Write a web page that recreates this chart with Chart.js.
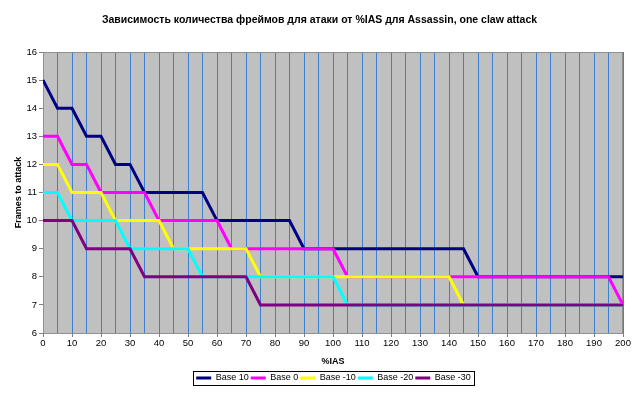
<!DOCTYPE html>
<html>
<head>
<meta charset="utf-8">
<script src="https://cdn.jsdelivr.net/npm/chart.js@4/dist/chart.umd.min.js"></script>
<style>
html,body{margin:0;padding:0;background:#fff;}
#wrap{width:640px;height:399px;}
</style>
</head>
<body>
<div id="wrap"><canvas id="c" width="640" height="399"></canvas></div>
<script>
const ias = [0,5,10,15,20,25,30,35,40,45,50,55,60,65,70,75,80,85,90,95,100,105,110,115,120,125,130,135,140,145,150,155,160,165,170,175,180,185,190,195,200];
const base10  = [15,14,14,13,13,12,12,11,11,11,11,11,10,10,10,10,10,10,9,9,9,9,9,9,9,9,9,9,9,9,8,8,8,8,8,8,8,8,8,8,8];
const base0   = [13,13,12,12,11,11,11,11,10,10,10,10,10,9,9,9,9,9,9,9,9,8,8,8,8,8,8,8,8,8,8,8,8,8,8,8,8,8,8,8,7];
const baseM10 = [12,12,11,11,11,10,10,10,10,9,9,9,9,9,9,8,8,8,8,8,8,8,8,8,8,8,8,8,8,7,7,7,7,7,7,7,7,7,7,7,7];
const baseM20 = [11,11,10,10,10,10,9,9,9,9,9,8,8,8,8,8,8,8,8,8,8,7,7,7,7,7,7,7,7,7,7,7,7,7,7,7,7,7,7,7,7];
const baseM30 = [10,10,10,9,9,9,9,8,8,8,8,8,8,8,8,7,7,7,7,7,7,7,7,7,7,7,7,7,7,7,7,7,7,7,7,7,7,7,7,7,7];
const seriesNames = ['Base 10','Base 0','Base -10','Base -20','Base -30'];
const seriesData = [base10, base0, baseM10, baseM20, baseM30];
const seriesColors = ['#000080','#ff00ff','#ffff00','#00ffff','#800080'];
const titleText = 'Зависимость количества фреймов для атаки от %IAS для Assassin, one claw attack';
const xTitle = '%IAS';
const yTitle = 'Frames to attack';

const FONT = 'Arial, "Liberation Sans", sans-serif';

const datasets = seriesNames.map((n,i)=>({
  label: n,
  data: ias.map((x,j)=>({x:x, y:seriesData[i][j]})),
  borderColor: seriesColors[i],
  backgroundColor: seriesColors[i],
  borderWidth: 3,
  pointRadius: 0,
  tension: 0,
  fill: false,
  order: seriesNames.length - i
}));

const bgPlugin = {
  id: 'bgPlugin',
  beforeDraw(chart){
    const {ctx, chartArea:a} = chart;
    ctx.save();
    ctx.fillStyle = '#c0c0c0';
    ctx.fillRect(a.left, a.top, a.right-a.left, a.bottom-a.top);
    ctx.restore();
  },
  beforeDatasetsDraw(chart){
    const {ctx, chartArea:a} = chart;
    ctx.save();
    ctx.strokeStyle = '#909090';
    ctx.lineWidth = 1;
    ctx.strokeRect(Math.round(a.left)+0.5, Math.round(a.top)+0.5, Math.round(a.right-a.left)-1, Math.round(a.bottom-a.top));
    const xs = chart.scales.x;
    ctx.strokeStyle = '#808080';
    ctx.beginPath();
    for (const t of xs.ticks) {
      if (t.value % 10 !== 0) continue;
      const px = Math.round(xs.getPixelForValue(t.value)) + 0.5;
      ctx.moveTo(px, Math.round(a.bottom));
      ctx.lineTo(px, Math.round(a.bottom) + 4);
    }
    ctx.stroke();
    ctx.restore();
  },
  afterLayout(chart){
    const tb = chart.titleBlock;
    if (tb) { tb.left += 8; tb.right += 8; }
    const lg = chart.legend;
    if(!lg || !lg.lineWidths) return;
    const p = lg.options.labels.padding;
    const W = lg.lineWidths[0];
    const start = (lg.left + p + lg.right - W)/2;
    const wantStart = 333.5 - (W - p)/2;
    const d = wantStart - start;
    lg.left += d; lg.right += d;
    const fs = lg.options.labels.font.size;
    const ih = Math.max(fs, lg.options.labels.boxHeight || fs);
    const dy = 378 - (lg.top + p + ih/2);
    lg.top += dy; lg.bottom += dy;
  },
  afterDraw(chart){
    const lg = chart.legend;
    if(!lg || !lg.legendHitBoxes || !lg.legendHitBoxes.length) return;
    const hb = lg.legendHitBoxes;
    let l = Infinity, r = -Infinity, t = Infinity, b = -Infinity;
    hb.forEach(h=>{ l=Math.min(l,h.left); r=Math.max(r,h.left+h.width); t=Math.min(t,h.top); b=Math.max(b,h.top+h.height);});
    const cy = (t+b)/2;
    const ctx = chart.ctx;
    ctx.save();
    ctx.strokeStyle = '#000';
    ctx.lineWidth = 1;
    ctx.strokeRect(Math.round(l-3)+0.5, Math.round(cy-7)+0.5, Math.round(r-l+6), 14);
    ctx.restore();
  }
};

new Chart(document.getElementById('c'), {
  type: 'line',
  data: { datasets },
  plugins: [bgPlugin],
  options: {
    responsive: false,
    animation: false,
    devicePixelRatio: 1,
    layout: { padding: { left: 0, right: 17, top: 0, bottom: 0 } },
    plugins: {
      title: {
        display: true,
        text: titleText,
        color: '#000',
        font: { family: FONT, size: 10.5, weight: 'bold' },
        padding: { top: 14.2, bottom: 25.2 }
      },
      legend: {
        display: true,
        position: 'bottom',
        reverse: true,
        labels: {
          color: '#000',
          font: { family: FONT, size: 9 },
          usePointStyle: true,
          pointStyle: 'line',
          pointStyleWidth: 15,
          boxHeight: 9,
          padding: 2
        }
      },
      tooltip: { enabled: false }
    },
    scales: {
      x: {
        type: 'linear',
        min: 0, max: 200,
        afterFit(s){ s.height = 45; },
        ticks: {
          stepSize: 5,
          color: '#000',
          font: { family: FONT, size: 9.5 },
          padding: 5,
          maxRotation: 0,
          autoSkip: false,
          callback: (v)=> (v % 10 === 0 ? String(v) : '')
        },
        grid: {
          drawOnChartArea: true,
          drawTicks: false,
          color: '#3c80d0',
          lineWidth: 1
        },
        border: { display: true, color: '#808080', width: 1 },
        title: {
          display: true,
          text: xTitle,
          color: '#000',
          font: { family: FONT, size: 9, weight: 'bold' },
          padding: { top: 0, bottom: 10.6 }
        }
      },
      y: {
        type: 'linear',
        min: 6, max: 16,
        afterFit(s){ s.width = 43; },
        ticks: {
          stepSize: 1,
          color: '#000',
          font: { family: FONT, size: 9.5 },
          padding: 2
        },
        grid: {
          drawOnChartArea: false,
          tickColor: '#808080',
          tickLength: 4
        },
        border: { display: true, color: '#808080', width: 1 },
        title: {
          display: true,
          text: yTitle,
          color: '#000',
          font: { family: FONT, size: 9, weight: 'bold' },
          padding: { top: 13.6, bottom: 0 }
        }
      }
    }
  }
});
</script>
</body>
</html>
